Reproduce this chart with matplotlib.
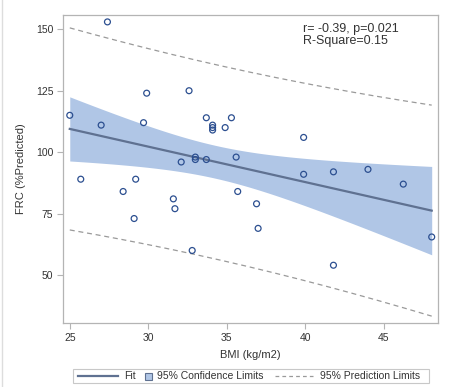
import numpy as np
import matplotlib
matplotlib.use("Agg")
import matplotlib.pyplot as plt
from matplotlib.lines import Line2D
from matplotlib.patches import Rectangle

plt.rcParams['font.family'] = ['Liberation Sans', 'DejaVu Sans']

bmi = [25.0, 27.4, 27.0, 25.7, 29.9, 29.7, 29.2, 28.4, 32.6, 32.1, 33.0, 33.0,
       33.7, 33.7, 34.1, 34.1, 34.1, 35.3, 34.9, 35.6, 35.7, 36.9, 37.0, 39.9,
       39.9, 41.8, 44.0, 46.25, 48.06, 41.8, 29.1, 31.6, 31.7, 32.8]
frc = [115, 153, 111, 89, 124, 112, 89, 84, 125, 96, 98, 97,
       97, 114, 111, 110, 109, 114, 110, 98, 84, 79, 69, 106,
       91, 92, 93, 87, 65.5, 54, 73, 81, 77, 60]
xticks = [25, 30, 35, 40, 45]
yticks = [50, 75, 100, 125, 150]
annot = "r= -0.39, p=0.021\nR-Square=0.15"
legend_labels = ['Fit', '95% Confidence Limits', '95% Prediction Limits']

x = np.array(bmi, float)
y = np.array(frc, float)
n = len(x)
b1, b0 = np.polyfit(x, y, 1)
resid = y - (b0 + b1 * x)
s = np.sqrt(np.sum(resid ** 2) / (n - 2))
tcrit = 2.035
xx = np.linspace(x.min(), x.max(), 200)
fit = b0 + b1 * xx
sxx = np.sum((x - x.mean()) ** 2)
se_mean = s * np.sqrt(1.0 / n + (xx - x.mean()) ** 2 / sxx)
se_pred = s * np.sqrt(1 + 1.0 / n + (xx - x.mean()) ** 2 / sxx)

W, H = 459, 387
fig = plt.figure(figsize=(W / 100, H / 100), dpi=100)
ax = fig.add_axes([0.1373, 0.1654, 0.8169, 0.7958])

band_c = '#b0c6e6'
fit_c = '#5f7191'
pred_c = '#9a9a9a'
pt_c = '#2c4f90'
txt_c = '#333333'
spine_c = '#b4b4b4'

ax.fill_between(xx, fit - tcrit * se_mean, fit + tcrit * se_mean, color=band_c, lw=0, zorder=1)
ax.plot(xx, fit, color=fit_c, lw=1.6, zorder=3)
ax.plot(xx, fit + tcrit * se_pred, color=pred_c, lw=0.9, ls=(0, (4, 3)), zorder=2)
ax.plot(xx, fit - tcrit * se_pred, color=pred_c, lw=0.9, ls=(0, (4, 3)), zorder=2)
ax.scatter(x, y, s=18, facecolors='none', edgecolors=pt_c, linewidths=0.9, zorder=4)

ax.set_xlim(24.57, 48.46)
ax.set_ylim(30.5, 155.8)
ax.set_xticks(xticks)
ax.set_yticks(yticks)
ax.tick_params(direction='out', length=4, width=0.8, color=spine_c, labelcolor=txt_c, labelsize=7.5, pad=3)
for sp in ax.spines.values():
    sp.set_color(spine_c)
    sp.set_linewidth(0.9)
ax.set_xlabel('BMI (kg/m2)', fontsize=8, color=txt_c, labelpad=5)
ax.set_ylabel('FRC (%Predicted)', fontsize=8, color=txt_c, labelpad=7)

ax.text(0.64, 0.975, annot, transform=ax.transAxes, ha='left', va='top', fontsize=9,
        color=txt_c, linespacing=1.0)


# manual legend (pixel layout converted to figure fraction)
def fx(px):
    return px / W


def fy(py):
    return 1 - py / H


ly = 376
fig.add_artist(Rectangle((fx(73), fy(383)), fx(429) - fx(73), fy(369) - fy(383),
                         transform=fig.transFigure, facecolor='white', edgecolor='#c8c8c8', lw=0.8))
fig.add_artist(Line2D([fx(78), fx(118)], [fy(ly), fy(ly)], transform=fig.transFigure, color=fit_c, lw=1.6))
fig.text(fx(124), fy(ly), legend_labels[0], ha='left', va='center', fontsize=7.5, color=txt_c)
fig.add_artist(Rectangle((fx(144.5), fy(380)), fx(7.5), fy(372.5) - fy(380), transform=fig.transFigure,
                         facecolor=band_c, edgecolor='#5f7191', lw=0.8))
fig.text(fx(157), fy(ly), legend_labels[1], ha='left', va='center', fontsize=7.5, color=txt_c)
fig.add_artist(Line2D([fx(275), fx(313)], [fy(ly), fy(ly)], transform=fig.transFigure, color=pred_c,
                      lw=0.9, ls=(0, (3, 2.5))))
fig.text(fx(320.5), fy(ly), legend_labels[2], ha='left', va='center', fontsize=7.5, color=txt_c)

fig.add_artist(Line2D([0.004, 0.004], [0, 1], transform=fig.transFigure, color='#dddddd', lw=1))

fig.savefig('out.png', dpi=100)
